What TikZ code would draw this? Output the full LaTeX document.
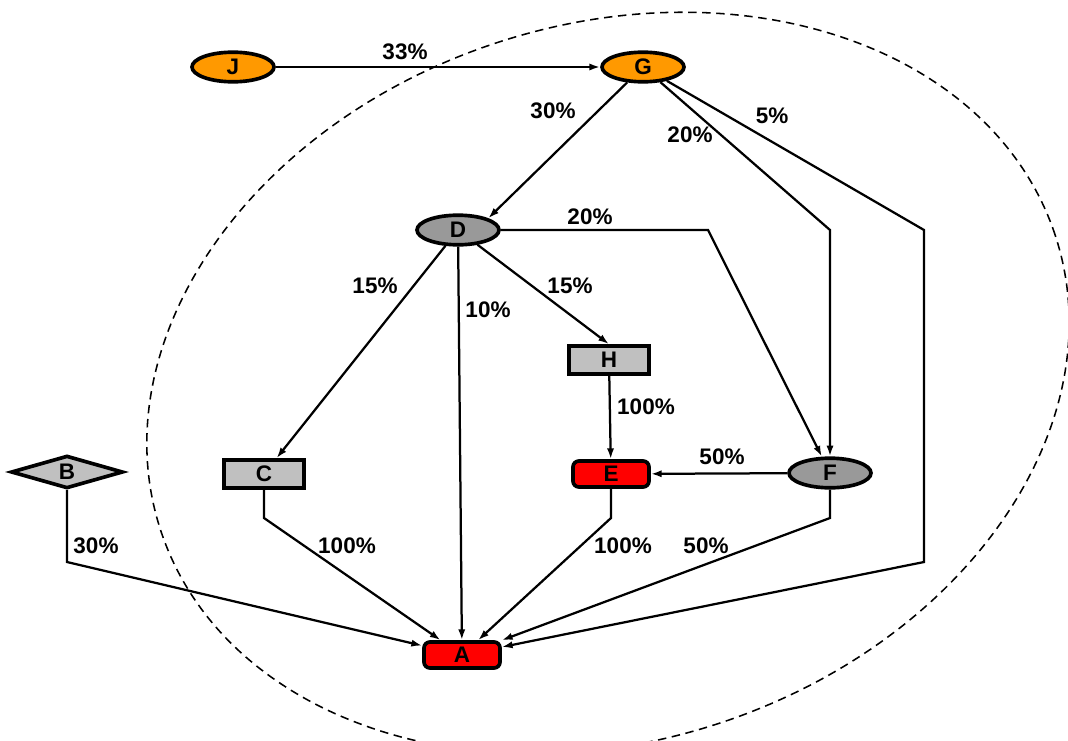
\documentclass[tikz,border=0pt]{standalone}
\usepackage{fontspec}
\setmainfont{Liberation Sans}
\usepackage{tikz}
\usetikzlibrary{arrows.meta,shapes.geometric}
\definecolor{gorange}{HTML}{FF9900}
\definecolor{ggray}{HTML}{999999}
\definecolor{glight}{HTML}{C0C0C0}
\definecolor{gred}{HTML}{FF0000}

\begin{document}
\begin{tikzpicture}[
		font=\fontsize{16}{19}\selectfont\bfseries,
		node/.style={ellipse, draw=black, line width=2.6pt, inner sep=0pt, minimum width=20.5mm, minimum height=7.4mm},
		boxnode/.style={rectangle, draw=black, line width=2.6pt, fill=glight, inner sep=0pt, minimum width=20mm, minimum height=7mm},
		rednode/.style={rectangle, rounded corners=1.5mm, draw=black, line width=2.6pt, fill=gred, inner sep=0pt, minimum width=19mm, minimum height=6.5mm},
		edge/.style={line width=1.6pt, -{Latex[length=2.7mm,width=1.8mm]}},
		lbl/.style={inner sep=0pt}
	]
		\useasboundingbox (0,0) rectangle (26.7,-18.5);
		
		\node[node, fill=gorange](j) at (5.825,-1.675){J};
		\node[node, fill=gorange](g) at (16.075,-1.675){G};
		\node[node, fill=ggray](d) at (11.45,-5.75){D};
		\node[boxnode](h) at (15.225,-9.0){H};
		\node[boxnode](c) at (6.6,-11.85){C};
		\node[diamond, draw=black, line width=2.6pt, fill=glight, inner sep=0pt, aspect=4, minimum width=28mm, minimum height=8.2mm](b) at (1.675,-11.8){B};
		\node[rednode](e) at (15.275,-11.85){E};
		\node[node, fill=ggray](f) at (20.75,-11.825){F};
		\node[rednode](a) at (11.55,-16.375){A};
		
		\coordinate (bend-df) at (17.7,-5.75);
		\coordinate (bend-g1) at (23.1,-5.75);
		\coordinate (bend-g2) at (23.1,-14.05);
		\coordinate (rowa) at (0,-12.95);
		
		\draw[edge](j) -- (g);
		\draw[edge](g) -- (d.north east);
		\draw[edge](g) -- (f |- d) -- (f);
		\draw[edge](g) -- (bend-g1) -- (bend-g2) -- (a);
		\draw[edge](d) -- (bend-df) -- (f);
		\draw[edge](d) -- (c);
		\draw[edge](d) -- (a);
		\draw[edge](d) -- (h.north);
		\draw[edge](h) -- (e);
		\draw[edge](f) -- (e);
		\draw[edge](b) -- (b |- bend-g2) -- (a);
		\draw[edge](c) -- (c |- rowa) -- (a);
		\draw[edge](e) -- (e |- rowa) -- (a);
		\draw[edge](f) -- (f |- rowa) -- (a);
		
		\node[lbl](l-jg) at (10.125,-1.3){33\%};
		\node[lbl](l-gd) at (13.825,-2.775){30\%};
		\node[lbl](l-gf) at (17.25,-3.375){20\%};
		\node[lbl](l-ga) at (19.3,-2.9){5\%};
		\node[lbl](l-df) at (14.75,-5.425){20\%};
		\node[lbl](l-dc) at (9.375,-7.15){15\%};
		\node[lbl](l-da) at (12.2,-7.75){10\%};
		\node[lbl](l-dh) at (14.25,-7.15){15\%};
		\node[lbl](l-he) at (16.15,-10.175){100\%};
		\node[lbl](l-fe) at (18.05,-11.425){50\%};
		\node[lbl](l-ba) at (2.4,-13.65){30\%};
		\node[lbl](l-ca) at (8.675,-13.65){100\%};
		\node[lbl](l-ea) at (15.575,-13.65){100\%};
		\node[lbl](l-fa) at (17.65,-13.65){50\%};
		
		% group
		\draw[line width=1.1pt, dash pattern=on 6pt off 4pt, rotate around={18.3:(15.2,-9.575)}] (15.2,-9.575) ellipse [x radius=11.775cm, y radius=8.95cm];
	\end{tikzpicture}
\end{document}
